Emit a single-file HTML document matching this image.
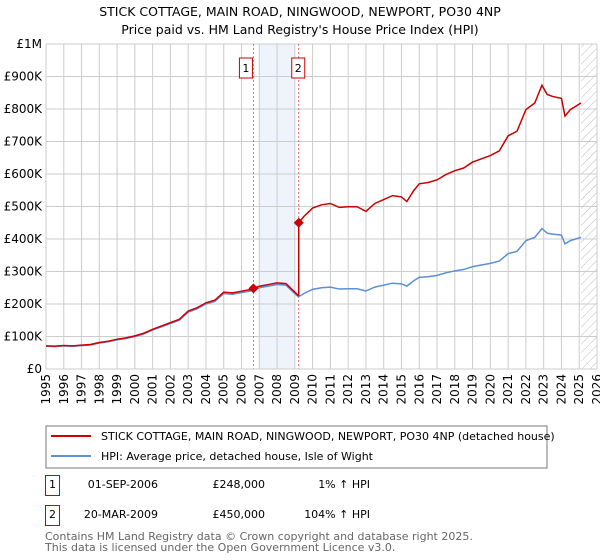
<!DOCTYPE html>
<html><head><meta charset="utf-8"><style>
body{margin:0;background:#fff;font-family:"DejaVu Sans","Liberation Sans",sans-serif;}
svg{display:block}
</style></head><body>
<svg width="600" height="560" xmlns="http://www.w3.org/2000/svg" font-family="DejaVu Sans, Liberation Sans, sans-serif">
<defs><pattern id="hatch" width="6" height="6" patternUnits="userSpaceOnUse" patternTransform="rotate(45)"><line x1="0" y1="0" x2="0" y2="6" stroke="#bbb" stroke-width="1"/></pattern></defs>
<text x="300" y="16" text-anchor="middle" font-size="12.5">STICK COTTAGE, MAIN ROAD, NINGWOOD, NEWPORT, PO30 4NP</text>
<text x="300" y="34" text-anchor="middle" font-size="12.5">Price paid vs. HM Land Registry's House Price Index (HPI)</text>
<g id="grid"></g><g id="marks"></g><g id="axes"></g>
<g>
<rect x="46" y="426" width="501" height="42" fill="#fff" stroke="#777"/>
<line x1="51" y1="436" x2="91" y2="436" stroke="#cc0000" stroke-width="2"/>
<text x="101" y="440" font-size="11">STICK COTTAGE, MAIN ROAD, NINGWOOD, NEWPORT, PO30 4NP (detached house)</text>
<line x1="51" y1="456" x2="91" y2="456" stroke="#5b8fd6" stroke-width="2"/>
<text x="101" y="460" font-size="11">HPI: Average price, detached house, Isle of Wight</text>
</g>
<g font-size="11">
<rect x="45.5" y="475.5" width="14" height="20" fill="none" stroke="#cc0000"/><text x="52.5" y="488" text-anchor="middle">1</text>
<text x="158" y="488" text-anchor="end">01-SEP-2006</text><text x="265" y="488" text-anchor="end">£248,000</text><text x="370" y="488" text-anchor="end">1% ↑ HPI</text>
<rect x="45.5" y="505.5" width="14" height="20" fill="none" stroke="#cc0000"/><text x="52.5" y="518" text-anchor="middle">2</text>
<text x="158" y="518" text-anchor="end">20-MAR-2009</text><text x="265" y="518" text-anchor="end">£450,000</text><text x="370" y="518" text-anchor="end">104% ↑ HPI</text>
</g>
<text x="45" y="540" font-size="11" fill="#666">Contains HM Land Registry data © Crown copyright and database right 2025.</text>
<text x="45" y="551" font-size="11" fill="#666">This data is licensed under the Open Government Licence v3.0.</text>
</svg>
<script>
const hpiYears=[1995,1995.5,1996,1996.5,1997,1997.5,1998,1998.5,1999,1999.5,2000,2000.5,2001,2001.5,2002,2002.5,2003,2003.5,2004,2004.5,2005,2005.5,2006,2006.5,2007,2007.5,2008,2008.5,2009,2009.2,2009.5,2010,2010.5,2011,2011.5,2012,2012.5,2013,2013.5,2014,2014.5,2015,2015.3,2015.7,2016,2016.5,2017,2017.5,2018,2018.5,2019,2019.5,2020,2020.5,2021,2021.5,2022,2022.5,2022.9,2023.2,2023.5,2024,2024.2,2024.5,2025.1];
const hpiValues=[70,69,71,70,72,74,80,84,90,94,100,108,120,130,140,150,175,185,200,208,232,230,235,240,250,255,260,258,232,222,232,245,250,252,246,247,247,240,252,258,264,262,255,272,282,284,288,296,302,306,315,320,325,332,355,362,395,405,432,418,415,412,385,395,405];
const saleYears=[2006.67,2009.22];
const salePrices=[248,450];
const saleLabels=["1","2"];
const yTicks=[0,100,200,300,400,500,600,700,800,900,1000];
const yTickLabels=["£0","£100K","£200K","£300K","£400K","£500K","£600K","£700K","£800K","£900K","£1M"];
const xTicks=[1995,1996,1997,1998,1999,2000,2001,2002,2003,2004,2005,2006,2007,2008,2009,2010,2011,2012,2013,2014,2015,2016,2017,2018,2019,2020,2021,2022,2023,2024,2025,2026];
const X0=46,X1=597,Y0=369,Y1=44;
const xs=y=>X0+(y-1995)/(2026-1995)*(X1-X0);
const ys=v=>Y0-v/1000*(Y0-Y1);
const NS="http://www.w3.org/2000/svg";
function mk(t,a,p){const e=document.createElementNS(NS,t);for(const k in a)e.setAttribute(k,a[k]);p.appendChild(e);return e;}
const grid=document.getElementById('grid'),marks=document.getElementById('marks'),axes=document.getElementById('axes');
mk('rect',{x:X0,y:Y1,width:X1-X0,height:Y0-Y1,fill:'#fff'},grid);
// shaded band + hatch
const band=mk('rect',{x:xs(2007.0),y:Y1,width:xs(2009.0)-xs(2007.0),height:Y0-Y1,fill:'#eef3fc'},grid);


const hatch=mk('rect',{x:xs(2025.1),y:Y1,width:X1-xs(2025.1),height:Y0-Y1,fill:'url(#hatch)'},grid);


yTicks.forEach((v,i)=>{
 const l=mk('line',{x1:X0,x2:X1,y1:ys(v),y2:ys(v),stroke:'#ccc'},grid);
 
 
 const t=mk('text',{x:X0-4,y:ys(v)+4,'text-anchor':'end','font-size':'12'},axes);
 t.textContent=yTickLabels[i];
 
 
});
xTicks.forEach(y=>{
 const l=mk('line',{x1:xs(y),x2:xs(y),y1:Y1,y2:Y0,stroke:'#ccc'},grid);
 
 
 const t=mk('text',{x:0,y:0,'text-anchor':'end','font-size':'12',transform:`translate(${xs(y)+4},${Y0+5}) rotate(-90)`},axes);
 t.textContent=y;
 
 
});
mk('line',{x1:X0,x2:X1,y1:Y0,y2:Y0,stroke:'#ccc'},axes);
// sale dashed lines
saleYears.forEach((y,i)=>{
 const l=mk('line',{x1:xs(y),x2:xs(y),y1:Y1,y2:Y0,stroke:'#e05050','stroke-dasharray':'2,2','stroke-width':'0.8'},marks);
 
 
});
// hpi line
function interp(y){for(let i=0;i<hpiYears.length-1;i++){if(y>=hpiYears[i]&&y<=hpiYears[i+1]){const f=(y-hpiYears[i])/(hpiYears[i+1]-hpiYears[i]);return hpiValues[i]+f*(hpiValues[i+1]-hpiValues[i]);}}return hpiValues[hpiValues.length-1];}
const hp=mk('polyline',{points:hpiYears.map((y,i)=>xs(y)+','+ys(hpiValues[i])).join(' '),fill:'none',stroke:'#5b8fd6','stroke-width':'1.5'},marks);


// property line: HPI scaled relative to each sale
const r0=salePrices[0]/interp(saleYears[0]),r1=salePrices[1]/interp(saleYears[1]);
let pts=[];
hpiYears.forEach((y,i)=>{if(y<saleYears[1])pts.push([y,hpiValues[i]*(y<saleYears[0]?r0:r0)]);});
pts.push([saleYears[1],interp(saleYears[1])*r0]);
pts.push([saleYears[1],salePrices[1]]);
hpiYears.forEach((y,i)=>{if(y>saleYears[1])pts.push([y,hpiValues[i]*r1]);});
const pl=mk('polyline',{points:pts.map(p=>xs(p[0])+','+ys(p[1])).join(' '),fill:'none',stroke:'#cc0000','stroke-width':'1.5'},marks);


saleYears.forEach((y,i)=>{
 const cx=xs(y),cy=ys(salePrices[i]);
 const d=mk('polygon',{points:`${cx},${cy-5} ${cx+5},${cy} ${cx},${cy+5} ${cx-5},${cy}`,fill:'#cc0000'},marks);
 
 
 const b=mk('rect',{x:cx-14,y:58,width:13,height:20,fill:'#fff',stroke:'#cc0000'},marks);
 if(i==1)b.setAttribute('x',cx-7);
 
 
 const t=mk('text',{x:(i==1?cx-0.5:cx-7.5),y:72,'text-anchor':'middle','font-size':'11'},marks);
 t.textContent=saleLabels[i];
 
 
});
</script>
</body></html>
